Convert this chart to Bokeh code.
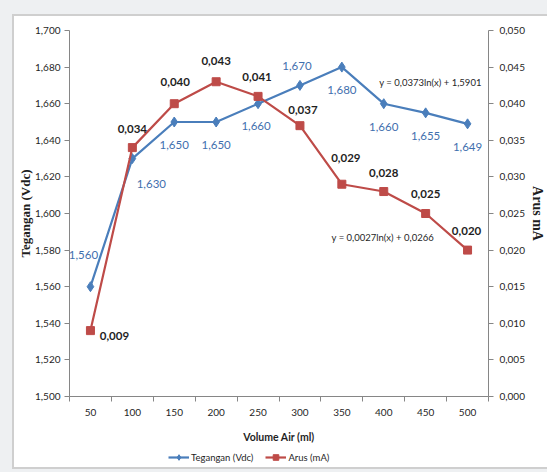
from bokeh.plotting import figure
from bokeh.layouts import column
from bokeh.models import (Range1d, LinearAxis, FixedTicker, CustomJSTickFormatter,
                          ColumnDataSource, LabelSet, Label, Legend, LegendItem)
from bokeh.core.properties import value
from bokeh.embed import file_html
from bokeh.resources import INLINE

# ---------------- data ----------------
volume = [50, 100, 150, 200, 250, 300, 350, 400, 450, 500]
tegangan = [1.560, 1.630, 1.650, 1.650, 1.660, 1.670, 1.680, 1.660, 1.655, 1.649]
arus = [0.009, 0.034, 0.040, 0.043, 0.041, 0.037, 0.029, 0.028, 0.025, 0.020]
left_ticks = [1.50, 1.52, 1.54, 1.56, 1.58, 1.60, 1.62, 1.64, 1.66, 1.68, 1.70]
right_ticks = [0.0, 0.005, 0.010, 0.015, 0.020, 0.025, 0.030, 0.035, 0.040, 0.045, 0.050]
x_boundaries = [25, 75, 125, 175, 225, 275, 325, 375, 425, 475, 525]
series_names = ["Tegangan (Vdc)", "Arus (mA)"]
eq_blue = "y = 0,0373ln(x) + 1,5901"
eq_red = "y = 0,0027ln(x) + 0,0266"

# ---------------- styles ----------------
BLUE = "#4a7ebb"
BLUE_TXT = "#3f6fae"
RED = "#be4b48"
AXIS = "#868686"
TXT = "#1f1f1f"
SANS = "Lato"
SERIF = "Liberation Serif"

blue_dx = [-7, 19, 0, 0, -2, -3, 0, 0, 0, 0]
blue_dy = [32, -25, -23, -23, -22, 19, -23, -23, -23, -23]
red_dx = [24, 0, 1, 0, -1, 3, 4, 0, 0, -1]
red_dy = [-5, 19, 22, 21, 19, 16, 26, 19, 20, 19]

def fmt(v):
    return f"{v:.3f}".replace(".", ",")

LINE = "#cfcfcf"
page_bg = ", ".join([
    f"linear-gradient({LINE},{LINE}) 12px 15px / 2px 454px no-repeat",
    f"linear-gradient({LINE},{LINE}) 12px 14px / 540px 2px no-repeat",
    f"linear-gradient({LINE},{LINE}) 12px 467px / 540px 2px no-repeat",
    "linear-gradient(#ffffff,#ffffff) 12px 14px / 540px 455px no-repeat",
    "#eef0f2",
])

p = figure(width=547, height=446, x_range=Range1d(25, 525), y_range=Range1d(1.5, 1.7),
           output_backend="svg", toolbar_location=None,
           min_border_left=69, min_border_right=56, min_border_top=30, min_border_bottom=50)
p.extra_y_ranges = {"arus": Range1d(0, 0.05)}
p.xgrid.visible = False
p.ygrid.visible = False
p.outline_line_color = None
p.background_fill_color = "white"
p.border_fill_alpha = 0

comma_fmt = CustomJSTickFormatter(code="return tick.toFixed(3).replace('.', ',');")

# x axis
xa = p.xaxis[0]
xa.ticker = FixedTicker(ticks=volume, minor_ticks=x_boundaries)
xa.major_tick_out = 0
xa.major_tick_in = 0
xa.minor_tick_out = 5
xa.minor_tick_in = 0
xa.minor_tick_line_color = AXIS
xa.axis_line_color = AXIS
xa.major_label_text_font = SANS
xa.major_label_text_font_size = "10px"
xa.major_label_text_color = TXT
xa.major_label_standoff = 7
xa.axis_label = "Volume Air (ml)"
xa.axis_label_text_font = SANS
xa.axis_label_text_font_style = "bold"
xa.axis_label_text_font_size = "10.5px"
xa.axis_label_text_color = TXT
xa.axis_label_standoff = 12

# left axis
ya = p.yaxis[0]
ya.ticker = FixedTicker(ticks=left_ticks)
ya.formatter = comma_fmt
ya.major_tick_out = 5
ya.major_tick_in = 0
ya.minor_tick_line_color = None
ya.axis_line_color = AXIS
ya.major_tick_line_color = AXIS
ya.major_label_text_font = SANS
ya.major_label_text_font_size = "10px"
ya.major_label_text_color = TXT
ya.major_label_standoff = 4
ya.axis_label = "Tegangan (Vdc)"
ya.axis_label_text_font = SERIF
ya.axis_label_text_font_style = "bold"
ya.axis_label_text_font_size = "13px"
ya.axis_label_text_color = TXT
ya.axis_label_standoff = -1

# right axis
ra = LinearAxis(y_range_name="arus", ticker=FixedTicker(ticks=right_ticks), formatter=comma_fmt)
ra.major_tick_out = 5
ra.major_tick_in = 0
ra.minor_tick_line_color = None
ra.axis_line_color = AXIS
ra.major_tick_line_color = AXIS
ra.major_label_text_font = SANS
ra.major_label_text_font_size = "10px"
ra.major_label_text_color = TXT
ra.major_label_standoff = 6
ra.axis_label = "Arus mA"
ra.axis_label_text_font = SERIF
ra.axis_label_text_font_style = "bold"
ra.axis_label_text_font_size = "14px"
ra.axis_label_text_color = TXT
ra.axis_label_standoff = 2
p.add_layout(ra, "right")

# data sources
src_v = ColumnDataSource(dict(x=volume, y=tegangan, t=[fmt(v) for v in tegangan], dx=blue_dx, dy=blue_dy))
src_a = ColumnDataSource(dict(x=volume, y=arus, t=[fmt(v) for v in arus], dx=red_dx, dy=red_dy))

p.line("x", "y", source=src_v, line_color=BLUE, line_width=2.2)
p.scatter("x", "y", source=src_v, marker="diamond", size=10, fill_color=BLUE, line_color=BLUE)
p.line("x", "y", source=src_a, line_color=RED, line_width=2.2, y_range_name="arus")
p.scatter("x", "y", source=src_a, marker="square", size=8, fill_color=RED, line_color=RED,
          y_range_name="arus")

p.add_layout(LabelSet(x="x", y="y", text="t", source=src_v, x_offset="dx", y_offset="dy",
                      text_align="center", text_baseline="middle", text_color=BLUE_TXT,
                      text_font=value(SANS), text_font_size="11.5px"))
p.add_layout(LabelSet(x="x", y="y", text="t", source=src_a, x_offset="dx", y_offset="dy",
                      y_range_name="arus",
                      text_align="center", text_baseline="middle", text_color=TXT,
                      text_font=value(SANS), text_font_size="11.5px", text_font_style="bold"))

# trendline equations
p.add_layout(Label(x=455.7, y=1.6716, text=eq_blue, text_align="center", text_baseline="middle",
                   text_font=SANS, text_font_size="9.5px", text_color=TXT))
p.add_layout(Label(x=398.8, y=0.02172, y_range_name="arus", text=eq_red, text_align="center",
                   text_baseline="middle", text_font=SANS, text_font_size="9.5px",
                   text_color=TXT))

# ---------------- legend strip ----------------
# same series drawn again in a strip whose y range keeps them out of view; only legend swatches show
lf = figure(width=547, height=26, x_range=Range1d(25, 525), y_range=Range1d(100, 101),
            output_backend="svg", toolbar_location=None, min_border=0,
            x_axis_location=None, y_axis_location=None)
lf.grid.visible = False
lf.outline_line_color = None
lf.background_fill_alpha = 0
lf.border_fill_alpha = 0
g1l = lf.line("x", "y", source=src_v, line_color=BLUE, line_width=2.2)
g1m = lf.scatter("x", "y", source=src_v, marker="diamond", size=9, fill_color=BLUE, line_color=BLUE)
g2l = lf.line("x", "y", source=src_a, line_color=RED, line_width=2.2)
g2m = lf.scatter("x", "y", source=src_a, marker="square", size=8, fill_color=RED, line_color=RED)
legend = Legend(items=[LegendItem(label=series_names[0], renderers=[g1l, g1m]),
                       LegendItem(label=series_names[1], renderers=[g2l, g2m])],
                location=(99, 8), orientation="horizontal",
                border_line_alpha=0, background_fill_alpha=0,
                glyph_width=21, glyph_height=14, label_height=14, label_standoff=2,
                spacing=12, padding=0, margin=0,
                label_text_font=SANS, label_text_font_size="9.5px", label_text_color=TXT)
lf.add_layout(legend, "center")

layout = column(p, lf, spacing=0, styles={"background": page_bg})

open("out.html", "w").write(file_html(layout, INLINE))
